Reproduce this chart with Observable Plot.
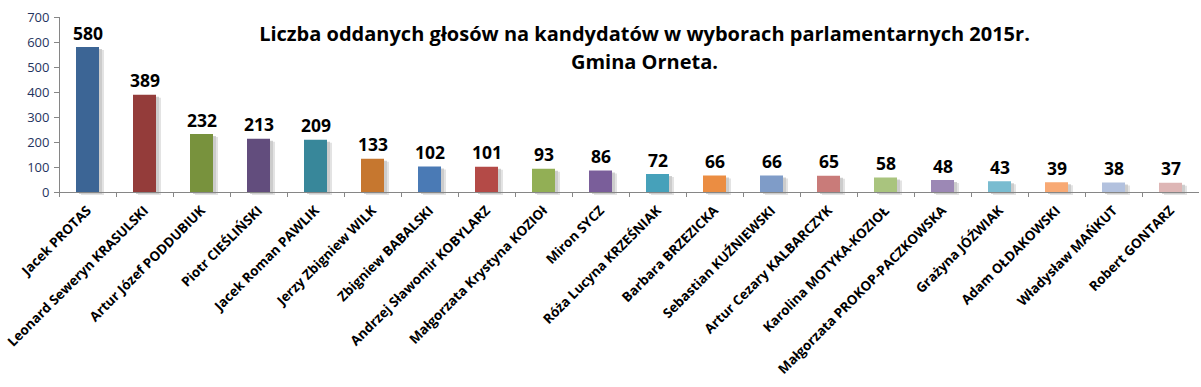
<!DOCTYPE html>
<html>
<head>
<meta charset="utf-8">
<script src="https://cdn.jsdelivr.net/npm/d3@7"></script>
<script src="https://cdn.jsdelivr.net/npm/@observablehq/plot@0.6"></script>
<style>
  html, body { margin: 0; padding: 0; background: #fff; }
  #chart svg { display: block; overflow: visible; }
</style>
</head>
<body>
<div id="chart"></div>
<script>
const names = [
  "Jacek PROTAS", "Leonard Seweryn KRASULSKI", "Artur Józef PODDUBIUK", "Piotr CIEŚLIŃSKI",
  "Jacek Roman PAWLIK", "Jerzy Zbigniew WILK", "Zbigniew BABALSKI", "Andrzej Sławomir KOBYLARZ",
  "Małgorzata Krystyna KOZIOł", "Miron SYCZ", "Róża Lucyna KRZEŚNIAK", "Barbara BRZEZICKA",
  "Sebastian KUŹNIEWSKI", "Artur Cezary KALBARCZYK", "Karolina MOTYKA-KOZIOŁ",
  "Małgorzata PROKOP-PACZKOWSKA", "Grażyna JÓŹWIAK", "Adam OŁDAKOWSKI", "Władysław MAŃKUT", "Robert GONTARZ"
];
const votes = [580, 389, 232, 213, 209, 133, 102, 101, 93, 86, 72, 66, 66, 65, 58, 48, 43, 39, 38, 37];
const colors = [
  "#3C6595", "#943C3A", "#78923D", "#624D7D", "#38879A", "#C6772F",
  "#4A7AB5", "#B44A47", "#92AF55", "#7A5E9A", "#46A1BA", "#EB8D42",
  "#7F9CC8", "#C97B79", "#A9C47E", "#9C88B5", "#79BCD0", "#F8A974", "#B2C1DE", "#DEB6B5"
];
const yTicks = [0, 100, 200, 300, 400, 500, 600, 700];
const titleText = "Liczba oddanych głosów na kandydatów w wyborach parlamentarnych 2015r.\nGmina Orneta.";

const data = names.map((name, i) => ({name, votes: votes[i], color: colors[i]}));

const W = 1201, H = 387;
const mL = 59, mR = 2;
const step = (W - mL - mR) / names.length;

const chart = Plot.plot({
  width: W,
  height: H,
  marginLeft: mL,
  marginRight: mR,
  marginTop: 17,
  marginBottom: 195,
  style: {fontFamily: "'Open Sans', sans-serif", background: "#fff"},
  x: {domain: names, paddingInner: 0.6, paddingOuter: 0.3, label: null},
  y: {domain: [0, 700], label: null},
  color: {type: "identity"},
  marks: [
    // shadow
    Plot.barY(data, {x: "name", y: "votes", fill: "#9a9a9a", fillOpacity: 0.45, dx: 3, dy: 2}),
    Plot.barY(data, {x: "name", y: "votes", fill: "#c8c8c8", fillOpacity: 0.5, dx: 5, dy: 3}),
    Plot.barY(data, {x: "name", y: "votes", fill: "color"}),
    Plot.text(data, {x: "name", y: "votes", text: d => String(d.votes), dy: -8, lineAnchor: "bottom",
      fontSize: 17.5, fontWeight: "bold", fill: "#000"}),
    // y axis line
    Plot.ruleX([names[0]], {dx: -step / 2, y1: 0, y2: 700, stroke: "#868686"}),
    Plot.axisY({ticks: yTicks, tickSize: 5, tickPadding: 5, stroke: "#868686", fill: "#1F3460",
      fontSize: 13, label: null}),
    // x axis line
    Plot.ruleY([0], {stroke: "#868686"}),
    // boundary ticks
    Plot.axisX({tickSize: 5, tickFormat: () => "", stroke: "#868686", dx: -step / 2, label: null}),
    // rotated labels
    Plot.axisX({tickSize: 0, tickRotate: -45, tickPadding: 16, dx: 1, fontSize: 13.4, fontWeight: "bold",
      fill: "#000", label: null}),
    Plot.text([titleText], {frameAnchor: "top", dx: 15, dy: 4, lineAnchor: "top", lineHeight: 1.4,
      fontSize: 20, fontWeight: "bold", fill: "#000"})
  ]
});
document.getElementById("chart").appendChild(chart);
</script>
</body>
</html>
